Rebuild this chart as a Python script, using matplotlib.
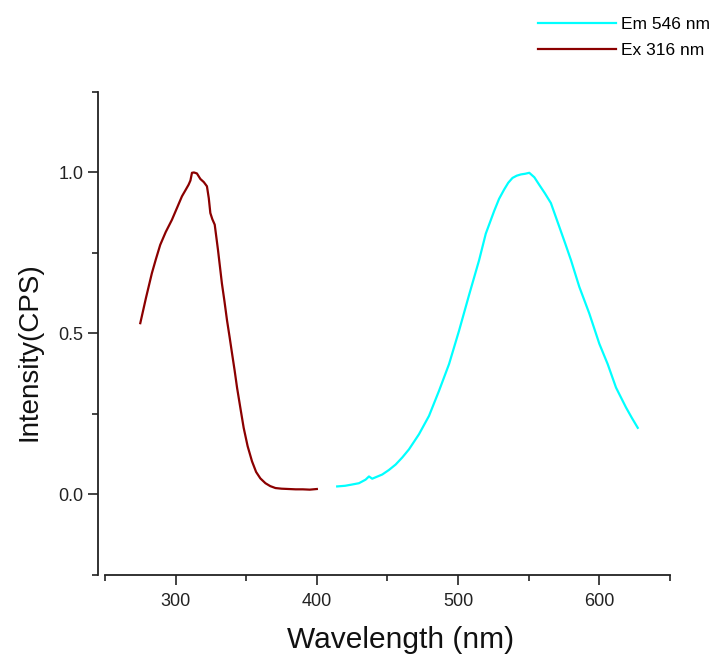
import matplotlib
matplotlib.use("Agg")
import matplotlib.pyplot as plt
from matplotlib.ticker import MultipleLocator

plt.rcParams['font.family'] = ['Liberation Sans', 'DejaVu Sans']

# excitation spectrum (monitored at 546 nm)
ex_wavelength = [275, 279, 283.2, 286, 289.1, 293, 297.4, 301, 304.5, 307, 309.2, 310.5, 311.6,
                 313, 315.1, 317.5, 320, 322.2, 323.5, 324.6, 326, 327.7, 330, 332.8, 334.6,
                 336.4, 338.2, 340, 341.8, 343.5, 346, 348.2, 351, 354.1, 357, 360, 363.6,
                 367, 370.7, 375, 380, 385, 390, 395, 400]
ex_intensity = [0.532, 0.61, 0.687, 0.73, 0.775, 0.815, 0.853, 0.89, 0.926, 0.945, 0.962, 0.975,
                0.999, 1.0, 0.997, 0.98, 0.97, 0.957, 0.92, 0.874, 0.855, 0.838, 0.76, 0.655,
                0.6, 0.541, 0.49, 0.437, 0.385, 0.332, 0.265, 0.207, 0.15, 0.103, 0.07,
                0.05, 0.035, 0.026, 0.020, 0.018, 0.017, 0.016, 0.016, 0.015, 0.017]

# emission spectrum (excited at 316 nm)
em_wavelength = [414.4, 420, 425, 429.8, 434.5, 436.9, 439.2, 446.3, 451, 455.8, 460.5, 465.2,
                 472.3, 479.4, 486.5, 493.6, 500.7, 507.8, 514.9, 519.6, 525.5, 529, 532.6,
                 535.5, 538.5, 541.5, 544.5, 547.5, 550.4, 554, 557.4, 561.5, 565.7, 571.6,
                 575.8, 579.9, 585.8, 592.9, 600, 605.9, 611.8, 618.9, 623, 627.2]
em_intensity = [0.025, 0.027, 0.031, 0.035, 0.046, 0.056, 0.049, 0.062, 0.076, 0.093, 0.115,
                0.14, 0.187, 0.244, 0.322, 0.405, 0.509, 0.62, 0.728, 0.81, 0.88, 0.918,
                0.947, 0.968, 0.983, 0.99, 0.994, 0.996, 0.999, 0.985, 0.962, 0.935, 0.905,
                0.832, 0.78, 0.728, 0.645, 0.562, 0.468, 0.405, 0.332, 0.27, 0.238, 0.207]

fig = plt.figure(figsize=(7.17, 6.56), dpi=100)
ax = fig.add_axes([0.1464, 0.1235, 0.788, 0.7363])

ax.plot(em_wavelength, em_intensity, color='#00FFFF', lw=1.6, label='Em 546 nm')
ax.plot(ex_wavelength, ex_intensity, color='#8B0000', lw=1.6, label='Ex 316 nm')

ax.set_xlim(250, 650)
ax.set_ylim(-0.25, 1.25)
ax.xaxis.set_major_locator(MultipleLocator(100))
ax.xaxis.set_minor_locator(MultipleLocator(50))
ax.yaxis.set_major_locator(MultipleLocator(0.5))
ax.yaxis.set_minor_locator(MultipleLocator(0.25))
ax.yaxis.set_major_formatter(plt.FuncFormatter(lambda v, p: f"{v:.1f}"))

for side in ['top', 'right']:
    ax.spines[side].set_visible(False)
ax.spines['left'].set_position(('outward', 5))
for side in ['left', 'bottom']:
    ax.spines[side].set_linewidth(1.3)
    ax.spines[side].set_color('#222222')

ax.tick_params(which='major', direction='out', length=7, width=1.2, colors='#222222',
               labelsize=13, labelcolor='#222222')
ax.tick_params(which='minor', direction='out', length=4, width=1.2, colors='#222222')
ax.tick_params(axis='x', pad=6)

ax.set_xlabel('Wavelength (nm)', fontsize=21.5, color='#111111')
ax.set_ylabel('Intensity(CPS)', fontsize=20, color='#111111')
ax.xaxis.set_label_coords(0.524, -0.105)
ax.yaxis.set_label_coords(-0.11, 0.462)

ax.legend(loc='upper right', bbox_to_anchor=(1.005, 0.99), bbox_transform=fig.transFigure,
          frameon=False, fontsize=12.5, handlelength=4.5, handletextpad=0.3,
          labelspacing=0.6, borderaxespad=0.2)

fig.savefig('out.png', dpi=100, facecolor='white')
